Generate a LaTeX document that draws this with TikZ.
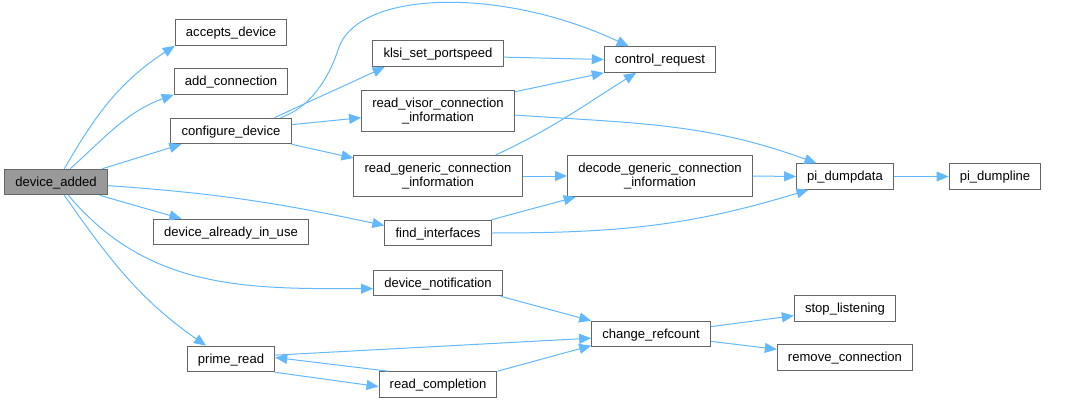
\documentclass[tikz,border=0pt]{standalone}
\usepackage{fontspec}
\setmainfont{Liberation Sans}
\usepackage{tikz}
\usetikzlibrary{arrows.meta}
\definecolor{callblue}{HTML}{63B8FF}
\definecolor{boxgray}{HTML}{666666}
\definecolor{selgray}{HTML}{999999}
\tikzset{fnbase/.style={ % Sets the properties for each function box
           draw=boxgray,
           line width=0.75pt,
           fill=white,
           rectangle,
           inner xsep=8pt,
           inner ysep=1pt,
           align=center,
           font=\fontsize{9.8}{10.5}\selectfont},
         fn/.style={fnbase, minimum height=19.2pt,
           text height=7.2pt, text depth=1pt},   % one-line boxes
         fntwo/.style={fnbase, minimum height=30.75pt,
           text height={}, text depth={}},       % two-line boxes
         caller/.style={fill=selgray}}

\begin{document}
\begin{tikzpicture}[x=0.75pt,y=0.75pt]
\useasboundingbox (0,0) rectangle (1078,-403);

\begin{scope}[every node/.style={fn}]
    \node[caller] (added) at (56,-182) {device\_added};
    \node (accepts) at (231,-32.5) {accepts\_device};
    \node (addconn) at (231,-81.5) {add\_connection};
    \node (configure) at (231,-131) {configure\_device};
    \node (inuse) at (231,-232) {device\_already\_in\_use};
    \node (prime) at (231,-359) {prime\_read};
    \node (klsi) at (438,-53.7) {klsi\_set\_portspeed};
    \node[fntwo] (visor) at (438,-111) {read\_visor\_connection\\\_information};
    \node[fntwo] (generic) at (438,-176) {read\_generic\_connection\\\_information};
    \node (findif) at (438,-233) {find\_interfaces};
    \node (notify) at (438,-283) {device\_notification};
    \node (readc) at (438,-384.5) {read\_completion};
    \node (ctrl) at (660,-59.5) {control\_request};
    \node[fntwo] (decode) at (660,-176) {decode\_generic\_connection\\\_information};
    \node (refcount) at (651,-334) {change\_refcount};
    \node (dumpdata) at (845,-176.5) {pi\_dumpdata};
    \node (dumpline) at (995,-176.5) {pi\_dumpline};
    \node (stop) at (845,-308.5) {stop\_listening};
    \node (remove) at (845,-357.7) {remove\_connection};
\end{scope}

\begin{scope}[>={Triangle[length=9pt,width=7.5pt]},
              every edge/.style={draw=callblue,line width=0.75pt,->}]
    \path (added.58) edge[out=60,in=213] (accepts.south west);
    \path (added.43) edge[out=42,in=200] (addconn.193);
    \path (added.16) edge (configure.195);
    \path (added.-17) edge (inuse.165);
    \path (added.-4) edge[out=-4,in=168] (findif.172);
    \path (added.-47) edge[out=-50,in=180] (notify.185);
    \path (added.-58) edge[out=-55,in=145] (prime.152);
    \path (configure.15) edge[to path={.. controls (315,-106) and (332,-69) .. (338,-50)
          .. controls (356,10) and (500,14) .. (\tikztotarget)}] (ctrl.157);
    \path (configure.17) edge[out=25,in=205] (klsi.194);
    \path (configure.6) edge (visor.185);
    \path (configure.south east) edge (generic.168);
    \path (klsi.-3) edge (ctrl.west);
    \path (visor.14) edge (ctrl.south west);
    \path (visor.-3) edge[out=-4,in=160] (dumpdata.155);
    \path (generic.20) edge[out=25,in=212] (ctrl.209);
    \path (generic.east) edge (decode.west);
    \path (findif.north east) edge (decode.194);
    \path (findif.east) edge[out=0,in=197] (dumpdata.200);
    \path (decode.east) edge (dumpdata.west);
    \path (dumpdata.east) edge (dumpline.west);
    \path (notify.-12) edge (refcount.north west);
    \path (prime.5) edge (refcount.184);
    \path (prime.south east) edge (readc.182);
    \path (readc.165) edge (prime.2);
    \path (readc.north east) edge (refcount.191);
    \path (refcount.7) edge (stop.188);
    \path (refcount.-7) edge (remove.173);
\end{scope}
\end{tikzpicture}
\end{document}
